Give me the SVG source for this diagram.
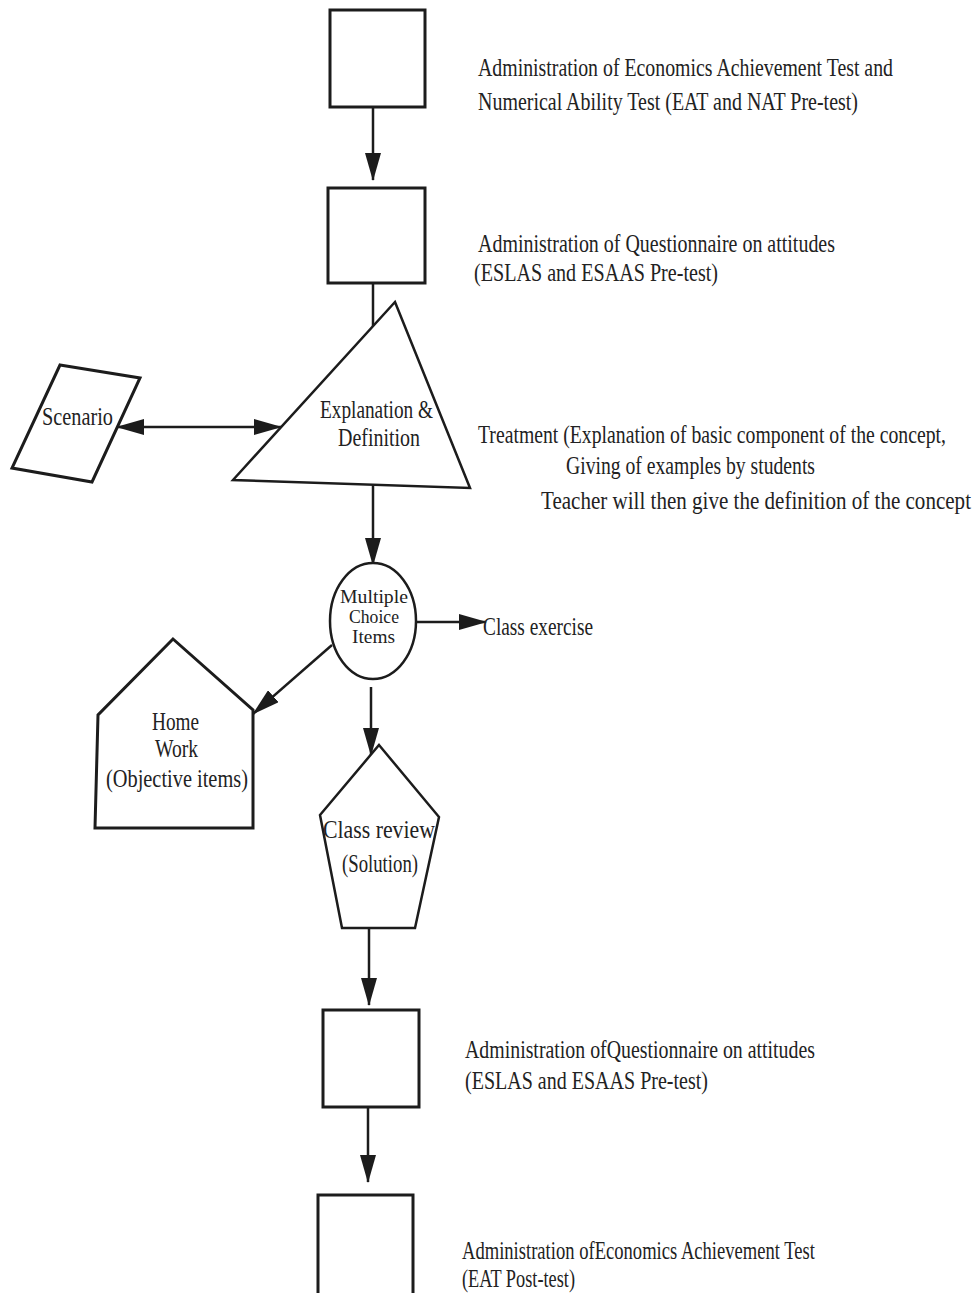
<svg xmlns="http://www.w3.org/2000/svg" width="973" height="1293" viewBox="0 0 973 1293">
  <defs>
    <marker id="head" markerUnits="userSpaceOnUse" markerWidth="28" markerHeight="16" refX="27" refY="8" orient="auto-start-reverse" viewBox="0 0 28 16">
      <path d="M0,0 L28,8 L0,16 Z" fill="#1c1c1c"/>
    </marker>
    <style>
      .shape { fill: #ffffff; stroke: #1c1c1c; stroke-width: 3; stroke-linejoin: miter; }
      .thin { stroke-width: 2.5; }
      .conn { fill: none; stroke: #1c1c1c; stroke-width: 2.5; marker-end: url(#head); }
      .both { marker-start: url(#head); }
      /* condensed serif: every label is squeezed horizontally to 80% */
      text { font-family: "Liberation Serif", "Times New Roman", serif; fill: #222222; font-size: 25px; }
      .small { font-size: 19px; }
    </style>
  </defs>

  <rect width="973" height="1293" fill="#ffffff"/>

  <!-- connectors -->
  <g id="connectors">
    <line class="conn" x1="373" y1="107" x2="373" y2="180"/>
    <line class="conn" x1="373" y1="283" x2="373" y2="361"/>
    <line class="conn both" x1="117" y1="427" x2="281" y2="427"/>
    <line class="conn" x1="373" y1="484" x2="373" y2="565"/>
    <line class="conn" x1="416" y1="622" x2="486" y2="622"/>
    <line class="conn" x1="332" y1="645" x2="253" y2="714"/>
    <line class="conn" x1="371" y1="687" x2="371" y2="755"/>
    <line class="conn" x1="369" y1="928" x2="369" y2="1005"/>
    <line class="conn" x1="368" y1="1107" x2="368" y2="1182"/>
  </g>

  <!-- step 1: pre-test EAT and NAT -->
  <g id="pretest-eat-nat">
    <rect class="shape" x="330" y="10" width="95" height="97"/>
    <text transform="scale(0.8 1)" x="597.5" y="76" textLength="518.75" lengthAdjust="spacingAndGlyphs">Administration of Economics Achievement Test and</text>
    <text transform="scale(0.8 1)" x="597.5" y="110" textLength="475" lengthAdjust="spacingAndGlyphs">Numerical Ability Test (EAT and NAT Pre-test)</text>
  </g>

  <!-- step 2: attitude questionnaire pre-test -->
  <g id="pretest-attitudes">
    <rect class="shape" x="328" y="188" width="97" height="95"/>
    <text transform="scale(0.8 1)" x="597.5" y="252" textLength="446.25" lengthAdjust="spacingAndGlyphs">Administration of Questionnaire on attitudes</text>
    <text transform="scale(0.8 1)" x="592.5" y="281" textLength="305" lengthAdjust="spacingAndGlyphs">(ESLAS and ESAAS  Pre-test)</text>
  </g>

  <!-- scenario -->
  <g id="scenario">
    <polygon class="shape" points="60,365 140,378 92,482 12,468"/>
    <text transform="scale(0.8 1)" x="52.5" y="425" textLength="88.75" lengthAdjust="spacingAndGlyphs">Scenario</text>
  </g>

  <!-- treatment: explanation and definition -->
  <g id="explanation">
    <polygon class="shape thin" points="395,302 470,488 233,480"/>
    <text transform="scale(0.8 1)" x="400" y="418" textLength="141.25" lengthAdjust="spacingAndGlyphs">Explanation &amp;</text>
    <text transform="scale(0.8 1)" x="422.5" y="446" textLength="102.5" lengthAdjust="spacingAndGlyphs">Definition</text>
    <text transform="scale(0.8 1)" x="597.5" y="443" textLength="585" lengthAdjust="spacingAndGlyphs">Treatment (Explanation of basic component of the concept,</text>
    <text transform="scale(0.8 1)" x="707.5" y="474" textLength="311.25" lengthAdjust="spacingAndGlyphs">Giving of examples by students</text>
    <text transform="scale(0.8 1)" x="676.25" y="509" textLength="537.5" lengthAdjust="spacingAndGlyphs">Teacher will then give the definition of the concept</text>
  </g>

  <!-- multiple choice items -->
  <g id="multiple-choice">
    <ellipse class="shape thin" cx="373" cy="621" rx="43" ry="58"/>
    <text class="small" transform="scale(0.8 1)" x="425" y="603" textLength="85" lengthAdjust="spacingAndGlyphs">Multiple</text>
    <text class="small" transform="scale(0.8 1)" x="436.25" y="623" textLength="62.5" lengthAdjust="spacingAndGlyphs">Choice</text>
    <text class="small" transform="scale(0.8 1)" x="440" y="643" textLength="53.75" lengthAdjust="spacingAndGlyphs">Items</text>
  </g>

  <!-- class exercise -->
  <g id="class-exercise">
    <text transform="scale(0.8 1)" x="603.75" y="635" textLength="137.5" lengthAdjust="spacingAndGlyphs">Class exercise</text>
  </g>

  <!-- home work -->
  <g id="home-work">
    <polygon class="shape" points="173,639 253,710 253,828 95,828 98,715"/>
    <text transform="scale(0.8 1)" x="190" y="730" textLength="58.75" lengthAdjust="spacingAndGlyphs">Home</text>
    <text transform="scale(0.8 1)" x="193.75" y="757" textLength="53.75" lengthAdjust="spacingAndGlyphs">Work</text>
    <text transform="scale(0.8 1)" x="132.5" y="787" textLength="177.5" lengthAdjust="spacingAndGlyphs">(Objective items)</text>
  </g>

  <!-- class review -->
  <g id="class-review">
    <polygon class="shape thin" points="379,745 439,817 415,928 342,928 320,815"/>
    <text transform="scale(0.8 1)" x="403.75" y="838" textLength="140" lengthAdjust="spacingAndGlyphs">Class review</text>
    <text transform="scale(0.8 1)" x="427.5" y="872" textLength="95" lengthAdjust="spacingAndGlyphs">(Solution)</text>
  </g>

  <!-- attitude questionnaire -->
  <g id="posttest-attitudes">
    <rect class="shape" x="323" y="1010" width="96" height="97"/>
    <text transform="scale(0.8 1)" x="581.25" y="1058" textLength="437.5" lengthAdjust="spacingAndGlyphs">Administration ofQuestionnaire on attitudes</text>
    <text transform="scale(0.8 1)" x="581.25" y="1089" textLength="303.75" lengthAdjust="spacingAndGlyphs">(ESLAS and  ESAAS  Pre-test)</text>
  </g>

  <!-- post-test EAT -->
  <g id="posttest-eat">
    <rect class="shape" x="318" y="1195" width="95" height="110"/>
    <text transform="scale(0.8 1)" x="577.5" y="1259" textLength="441.25" lengthAdjust="spacingAndGlyphs">Administration ofEconomics Achievement Test</text>
    <text transform="scale(0.8 1)" x="577.5" y="1287" textLength="141.25" lengthAdjust="spacingAndGlyphs">(EAT  Post-test)</text>
  </g>
</svg>
